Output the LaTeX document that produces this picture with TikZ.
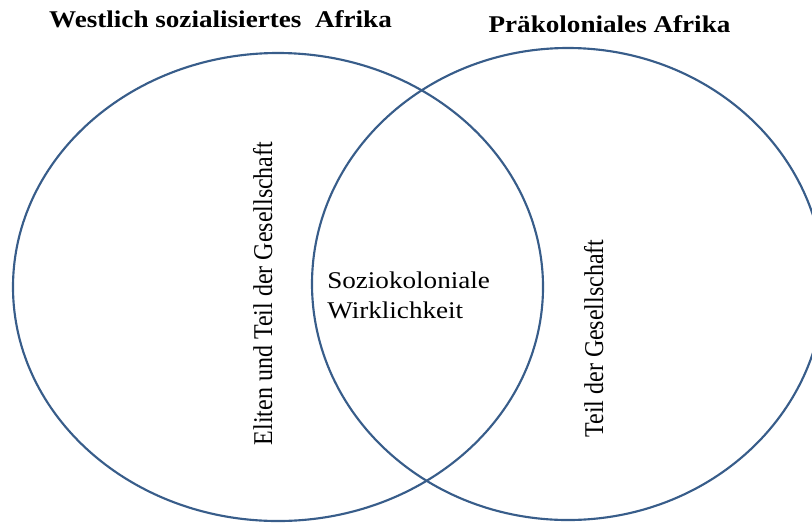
\documentclass[tikz,border=0pt]{standalone}
\usepackage{graphicx}
\usepackage{fontspec}
\setmainfont{Liberation Serif}
\newfontfamily\widefont[FakeStretch=1.13]{Liberation Serif}
\definecolor{ringblue}{RGB}{56,93,138}
\begin{document}
\begin{tikzpicture}[x=0.75pt,y=-0.75pt,
  ring/.style={draw=ringblue,line width=1.6pt},
  headtext/.style={font=\widefont\fontsize{18}{20}\selectfont\bfseries,anchor=base,inner sep=0pt},
  bodytext/.style={font=\widefont\fontsize{18}{20}\selectfont,anchor=base west,inner sep=0pt},
  vtext/.style={font=\fontsize{18}{20}\selectfont,anchor=base,rotate=90,inner sep=0pt}]
\clip (0,0) rectangle (812,522);
\draw[ring] (278,287) ellipse [x radius=265, y radius=234];
\draw[ring] (568,284) ellipse [x radius=256, y radius=236];
\node[headtext] (t1) at (220.5,27) {Westlich sozialisiertes\ \ Afrika};
\node[headtext] (t2) at (609.5,32) {Präkoloniales Afrika};
\node[vtext] (v1) at (272,293.5) {\scalebox{1}[1.13]{Eliten und Teil der Gesellschaft}};
\node[vtext] (v2) at (603,338.5) {\scalebox{1}[1.13]{Teil der Gesellschaft}};
\node[bodytext] (s1) at (327,288) {Soziokoloniale};
\node[bodytext] (s2) at (327,318) {Wirklichkeit};
\end{tikzpicture}
\end{document}
